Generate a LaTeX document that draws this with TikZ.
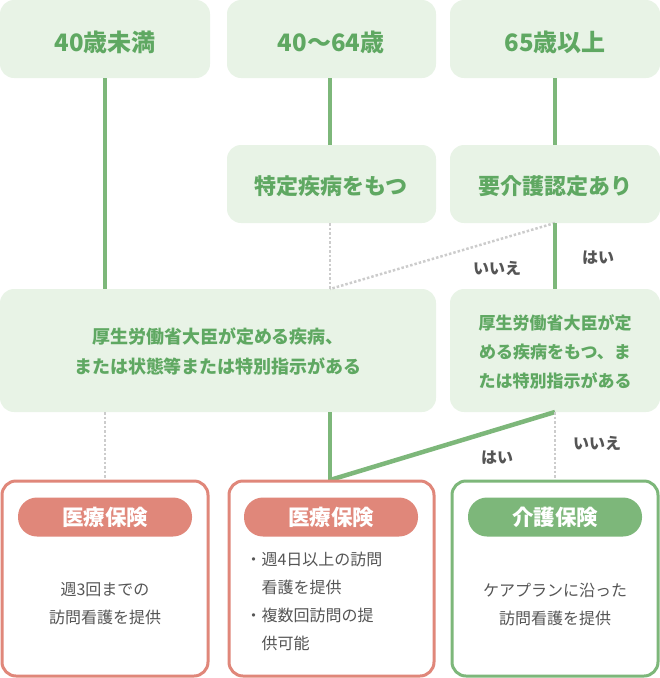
\documentclass[tikz,border=0pt]{standalone}
\usepackage{fontspec}
\setmainfont{Noto Sans CJK JP}
\definecolor{lg}{HTML}{E8F3E6}
\definecolor{gt}{HTML}{5FA862}
\definecolor{gl}{HTML}{7DB77A}
\definecolor{rd}{HTML}{E0877A}
\definecolor{tx}{HTML}{555555}
\definecolor{dt}{HTML}{CCCCCC}
\begin{document}
\begin{tikzpicture}[x=1pt,y=-1pt,
  gbox/.style={fill=lg,rounded corners=14pt,draw=none},
  obox/.style={fill=white,rounded corners=14pt,line width=3pt},
  ttl/.style={text=gt,font=\fontsize{24}{27}\selectfont\bfseries},
  body/.style={text=tx,font=\fontsize{16}{28}\selectfont,align=center},
  pill/.style={rounded corners=19pt,text=white,font=\fontsize{21.5}{24}\selectfont\bfseries},
  sol/.style={draw=gl,line width=4.5pt},
  dot/.style={draw=dt,line width=2.5pt,dotted},
  lab/.style={text=tx,font=\fontsize{16}{18}\selectfont\bfseries}]
\useasboundingbox (0,0) rectangle (660,678);
\fill[gbox] (0,0) rectangle (210,78);
\fill[gbox] (227,0) rectangle (436,78);
\fill[gbox] (450,0) rectangle (660,78);
\fill[gbox] (227,145) rectangle (436,223);
\fill[gbox] (450,145) rectangle (660,223);
\fill[gbox] (0,289) rectangle (436,412);
\fill[gbox] (450,289) rectangle (660,412);
\node[ttl] (a1) at (105,42) {40歳未満};
\node[ttl] (a2) at (331,42) {40〜64歳};
\node[ttl] (a3) at (555,42) {65歳以上};
\node[ttl,font=\fontsize{22}{25}\selectfont\bfseries] (b2) at (331,186) {特定疾病をもつ};
\node[ttl,font=\fontsize{22}{25}\selectfont\bfseries] (b3) at (555,186) {要介護認定あり};
\node[body,text=gt,font=\fontsize{18}{30}\selectfont\bfseries] (c1) at (218,351) {厚生労働省大臣が定める疾病、\\または状態等または特別指示がある};
\node[body,text=gt,font=\fontsize{17}{29}\selectfont\bfseries] (c3) at (555,352) {厚生労働省大臣が定\\める疾病をもつ、ま\\たは特別指示がある};
\coordinate (p1) at (105,78); \coordinate (q1) at (105,289);
\coordinate (p2) at (330,78); \coordinate (q2) at (330,145);
\coordinate (p3) at (555,78); \coordinate (q3) at (555,145);
\coordinate (r2) at (330,223); \coordinate (s2) at (330,289);
\coordinate (r3) at (555,223); \coordinate (s3) at (555,289);
\coordinate (u1) at (105,412); \coordinate (v1) at (105,480);
\coordinate (u2) at (330,412); \coordinate (v2) at (330,480);
\coordinate (u3) at (555,412); \coordinate (v3) at (555,480);
\draw[sol] (p1)--(q1); \draw[sol] (p2)--(q2); \draw[sol] (p3)--(q3);
\draw[dot] (r2)--(s2); \draw[dot] (r3)--(s2); \draw[sol] (r3)--(s3);
\draw[dot] (u1)--(v1); \draw[sol] (u2)--(v2); \draw[sol] (u3)--(v2); \draw[dot] (u3)--(v3);
\node[lab] (l1) at (497,268) {いいえ};
\node[lab] (l2) at (598,258) {はい};
\node[lab] (l3) at (497,458) {はい};
\node[lab] (l4) at (597,443) {いいえ};
\draw[obox,draw=rd] (2,481) rectangle (208,676);
\draw[obox,draw=rd] (229,481) rectangle (434,676);
\draw[obox,draw=gl] (452,481) rectangle (658,676);
\node[pill,fill=rd,minimum width=174pt,minimum height=39pt] (d1) at (105,517) {医療保険};
\node[pill,fill=rd,minimum width=174pt,minimum height=39pt] (d2) at (331,517) {医療保険};
\node[pill,fill=gl,minimum width=174pt,minimum height=39pt] (d3) at (555,517) {介護保険};
\node[body] (e1) at (105,604) {週3回までの\\訪問看護を提供};
\node[body,align=left,anchor=west] (e2) at (242,601) {・週4日以上の訪問\\\hspace{16pt}看護を提供\\・複数回訪問の提\\\hspace{16pt}供可能};
\node[body] (e3) at (555,604) {ケアプランに沿った\\訪問看護を提供};
\end{tikzpicture}
\end{document}
